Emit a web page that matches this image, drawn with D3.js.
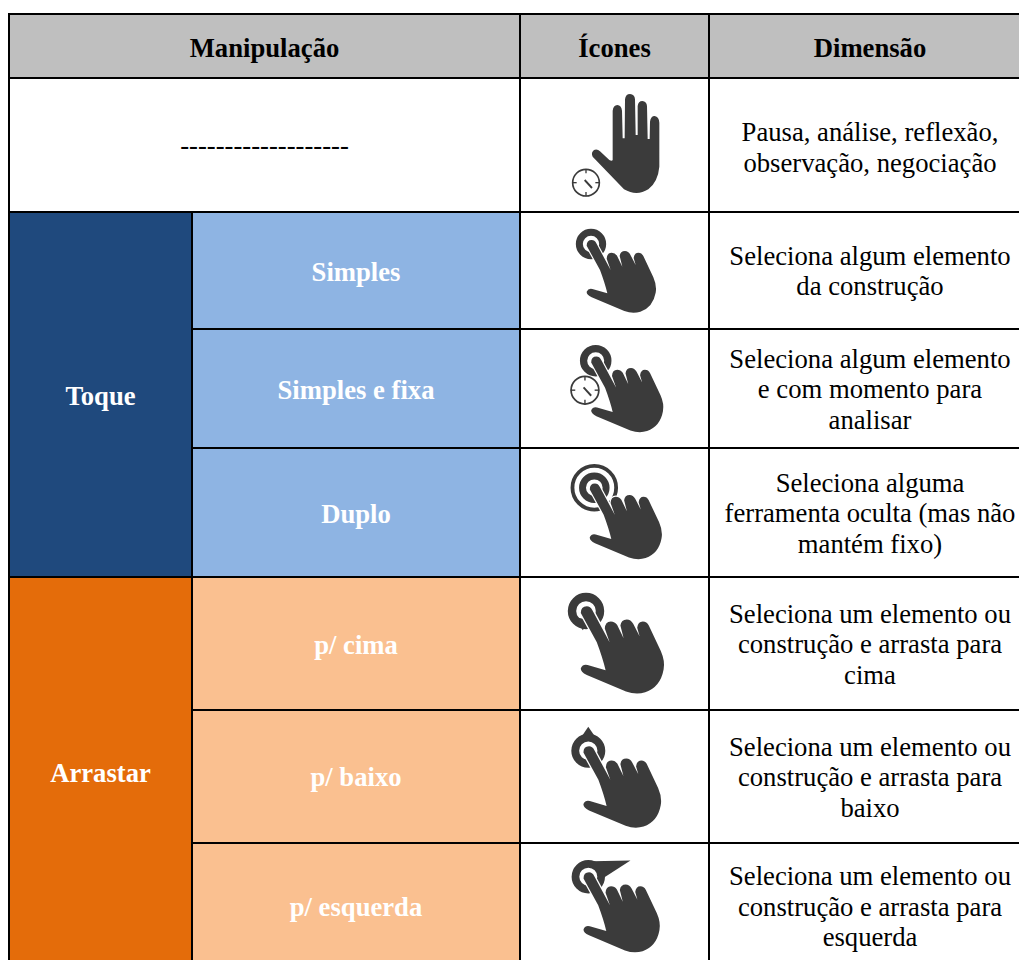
<!DOCTYPE html>
<html>
<head>
<meta charset="utf-8">
<script src="https://cdn.jsdelivr.net/npm/d3@7"></script>
<style>
html, body { margin: 0; padding: 0; background: #fff; }
svg { display: block; }
text { font-family: "Liberation Serif", "Times New Roman", serif; text-anchor: middle; }
</style>
</head>
<body>
<svg id="chart" width="1019" height="960"></svg>
<script>
// table content
const headers = ["Manipulação", "Ícones", "Dimensão"];
const emptyLabel = "-------------------";
const groups = [
    {name: "Toque", rows: [1, 4], color: "#1F497D", light: "#8EB4E3"},
    {name: "Arrastar", rows: [4, 7], color: "#E46C0A", light: "#FAC090"}
];
const manipulations = ["", "Simples", "Simples e fixa", "Duplo", "p/ cima", "p/ baixo", "p/ esquerda"];
const dimensions = [
    ["Pausa, análise, reflexão,", "observação, negociação"],
    ["Seleciona algum elemento", "da construção"],
    ["Seleciona algum elemento", "e com momento para", "analisar"],
    ["Seleciona alguma", "ferramenta oculta (mas não", "mantém fixo)"],
    ["Seleciona um elemento ou", "construção e arrasta para", "cima"],
    ["Seleciona um elemento ou", "construção e arrasta para", "baixo"],
    ["Seleciona um elemento ou", "construção e arrasta para", "esquerda"]
];
const iconKinds = ["palm", "ring", "clock", "double", "up", "down", "left"];

// grid lines of the table
const colEdges = [9, 192, 520, 709, 1031];
const rowEdges = [14, 78, 212, 329, 448, 577, 710, 843, 969];
const FONT = 26.67;

// where each icon sits: ring centre and scale
const iconPlace = {
    palm: {x: 520, y: 70, k: 1},
    ring: {x: 591, y: 244, k: 1},
    clock: {x: 595.7, y: 360.7, k: 1.04},
    double: {x: 594.3, y: 487.7, k: 1.04},
    up: {x: 586, y: 611, k: 1.2},
    down: {x: 588.3, y: 750.7, k: 1.12},
    left: {x: 588.3, y: 876.7, k: 1.1}
};

const ICON = "#3b3b3b";
// pointing hand, drawn around the ring centre, at 3 units per pixel
const pointHand = "M-13,5 Q-13,-12 2,-12 Q11,-12 16,-2 L59,78 L47,44 Q48,26 62,26 Q72,26 78,35 L94,68 L86,36 Q88,21 102,21 Q112,21 118,32 L134,63 L128,42 Q130,26 142,26 Q152,26 157,36 L187,100 Q198,125 194,146 Q186,190 148,203 Q125,210 100,201 L2,160 Q-14,152 -13,143 Q-8,132 4,135 L49,148 Q42,118 27,78 Z";
// open hand, drawn in crop units
const palmHand = "M218,260 Q212,248 222,240 Q232,236 240,244 L268,270 Q276,274 278,270 L278,122 Q280,106 292,105 Q304,106 306,122 L308,205 L314,205 L315,88 Q317,72 330,72 Q344,73 345,88 L347,195 L353,195 L353,108 Q355,93 367,93 Q380,94 381,108 L383,207 L389,207 L390,155 Q392,138 404,138 Q417,140 418,158 L418,290 Q414,335 385,358 Q350,380 312,358 Z";

const svg = d3.select("#chart");

const colX = d3.scaleOrdinal().domain(d3.range(colEdges.length)).range(colEdges);
const rowY = d3.scaleOrdinal().domain(d3.range(rowEdges.length)).range(rowEdges);

function cell(c0, c1, r0, r1, fill) {
    return {x0: colX(c0), x1: colX(c1), y0: rowY(r0), y1: rowY(r1), fill: fill};
}

// all the cells, back to front
let cells = [
    cell(0, 2, 0, 1, "#BFBFBF"),
    cell(2, 3, 0, 1, "#BFBFBF"),
    cell(3, 4, 0, 1, "#BFBFBF"),
    cell(0, 2, 1, 2, "#fff")
];
groups.forEach((g) => {
    cells.push(cell(0, 1, g.rows[0] + 1, g.rows[1] + 1, g.color));
    d3.range(g.rows[0], g.rows[1]).forEach((r) => {
        cells.push(cell(1, 2, r + 1, r + 2, g.light));
    });
});
dimensions.forEach((d, i) => {
    cells.push(cell(2, 3, i + 1, i + 2, "#fff"));
    cells.push(cell(3, 4, i + 1, i + 2, "#fff"));
});

svg.append("g").selectAll("rect")
    .data(cells)
    .join("rect")
    .attr("x", (d) => d.x0)
    .attr("y", (d) => d.y0)
    .attr("width", (d) => d.x1 - d.x0)
    .attr("height", (d) => d.y1 - d.y0)
    .attr("fill", (d) => d.fill)
    .attr("stroke", "#000")
    .attr("stroke-width", 2);

function label(x, y, str, bold, color) {
    svg.append("text")
        .attr("x", x)
        .attr("y", y)
        .attr("dy", "0.32em")
        .attr("font-size", FONT)
        .attr("font-weight", bold ? "bold" : "normal")
        .attr("fill", color)
        .text(str);
}

const midX = (a, b) => (colX(a) + colX(b)) / 2;
const midY = (r) => (rowY(r) + rowY(r + 1)) / 2;

// header
label(midX(0, 2), midY(0) + 2, headers[0], true, "#000");
label(midX(2, 3), midY(0) + 2, headers[1], true, "#000");
label(midX(3, 4), midY(0) + 2, headers[2], true, "#000");

// first row has no manipulation
label(midX(0, 2), midY(1), emptyLabel, false, "#000");

groups.forEach((g, i) => {
    label(midX(0, 1), (rowY(g.rows[0] + 1) + rowY(g.rows[1] + 1)) / 2 + (i === 0 ? 2 : 0), g.name, true, "#fff");
});
manipulations.forEach((m, i) => {
    // the upper rows sit a little lower in their cells
    if (m) label(midX(1, 2), midY(i + 1) + (i < 5 ? 2 : 1), m, true, "#fff");
});

// right column, several lines per cell
dimensions.forEach((lines, i) => {
    const top = midY(i + 1) - (lines.length - 1) * 15 + (i === 0 ? 2 : 0);
    lines.forEach((line, j) => {
        label(midX(3, 4), top + j * 30.5 + 0.5, line, false, "#000");
    });
});

function drawClock(g, cx, cy) {
    const clock = g.append("g").attr("transform", "translate(" + cx + "," + cy + ")");
    clock.append("circle").attr("r", 40).attr("fill", "#fff").attr("stroke", ICON).attr("stroke-width", 5);
    [0, 90, 180, 270].forEach((a) => {
        clock.append("line").attr("y1", -41).attr("y2", -28)
            .attr("transform", "rotate(" + a + ")")
            .attr("stroke", ICON).attr("stroke-width", 4);
    });
    clock.append("path").attr("d", "M-6,-6 L-2,-10 L20,14 L16,18 Z").attr("fill", ICON);
}

function drawIcon(kind) {
    const p = iconPlace[kind];
    const k = kind === "palm" ? 1 / 3 : p.k / 3;
    const g = svg.append("g")
        .attr("transform", "translate(" + p.x + "," + p.y + ") scale(" + k + ")");

    if (kind === "palm") {
        g.append("path").attr("d", palmHand).attr("fill", ICON);
        drawClock(g, 198, 338);
        return;
    }

    // rings behind the hand
    if (kind === "double") {
        g.append("circle").attr("r", 63).attr("fill", "none").attr("stroke", ICON).attr("stroke-width", 11);
        g.append("circle").attr("r", 34).attr("fill", "none").attr("stroke", ICON).attr("stroke-width", 20);
    } else {
        g.append("circle").attr("r", 35).attr("fill", "none").attr("stroke", ICON).attr("stroke-width", 21);
    }

    // little arrow heads on the drag icons
    if (kind === "up") g.append("path").attr("d", "M-30,14 L-8,48 L8,24 Z").attr("fill", ICON);
    if (kind === "down") g.append("path").attr("d", "M-26,-26 L0,-64 L26,-26 Z").attr("fill", ICON);
    if (kind === "left") g.append("path").attr("d", "M10,-42 L115,-44 L40,4 Z").attr("fill", ICON);

    g.append("path")
        .attr("d", pointHand)
        .attr("fill", ICON)
        .attr("stroke", "#fff")
        .attr("stroke-width", 7)
        .attr("paint-order", "stroke");

    if (kind === "clock") drawClock(g, -31, 85);
}

iconKinds.forEach(drawIcon);
</script>
</body>
</html>
